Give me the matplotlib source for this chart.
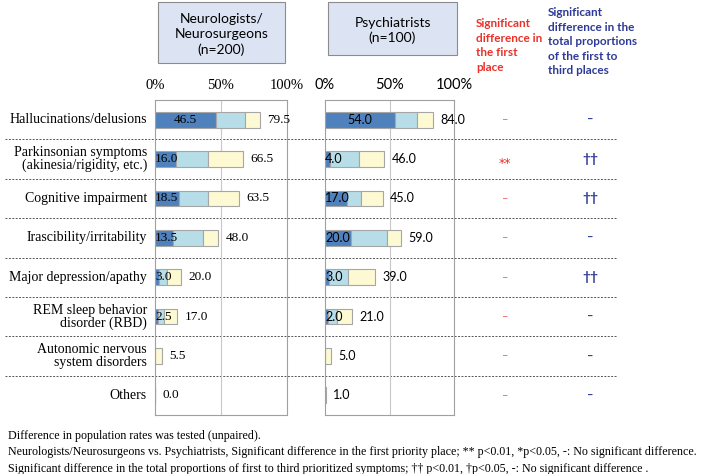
import numpy as np
import matplotlib
matplotlib.use("Agg")
import matplotlib.pyplot as plt
from matplotlib.patches import Rectangle

# symptom rows
labels = ["Hallucinations/delusions",
          "Parkinsonian symptoms\n(akinesia/rigidity, etc.)",
          "Cognitive impairment",
          "Irascibility/irritability",
          "Major depression/apathy",
          "REM sleep behavior\ndisorder (RBD)",
          "Autonomic nervous\nsystem disorders",
          "Others"]

# Neurologists/Neurosurgeons (n=200), % in 1st / 2nd / 3rd place
neuro_first = [46.5, 16.0, 18.5, 13.5, 3.0, 2.5, 0.0, 0.0]
neuro_second = [22.0, 24.5, 22.0, 22.5, 6.0, 4.5, 0.0, 0.0]
neuro_third = [11.0, 26.0, 23.0, 12.0, 11.0, 10.0, 5.5, 0.0]
neuro_total = [79.5, 66.5, 63.5, 48.0, 20.0, 17.0, 5.5, 0.0]

# Psychiatrists (n=100)
psych_first = [54.0, 4.0, 17.0, 20.0, 3.0, 2.0, 0.0, 0.0]
psych_second = [17.0, 22.0, 11.0, 28.0, 14.5, 7.5, 0.0, 0.0]
psych_third = [13.0, 20.0, 17.0, 11.0, 21.5, 11.5, 5.0, 1.0]
psych_total = [84.0, 46.0, 45.0, 59.0, 39.0, 21.0, 5.0, 1.0]

# significance marks
sig_first = ["-", "**", "-", "-", "-", "-", "-", "-"]
sig_total = ["-", "††", "††", "-", "††", "-", "-", "-"]

W, H = 709, 474
SERIF = "Liberation Serif"
SANS = ["Lato", "DejaVu Sans"]
c_first, c_second, c_third = "#4f81bd", "#b7dee8", "#fdf9d2"
red, blue = "#e8322a", "#2e3a96"

fig = plt.figure(figsize=(W / 100, H / 100), dpi=100)


def fx(x):
    return x / W


def fy(y):
    return 1 - y / H


top, bottom = 100, 415
n = len(labels)
rows = np.arange(n) + 0.5

# background axes for row labels, separators and significance marks
bg = fig.add_axes([0, fy(bottom), 1, (bottom - top) / H])
bg.set_xlim(0, W)
bg.set_ylim(n, 0)
bg.axis("off")
for i in range(1, n):
    bg.plot([5, 617], [i, i], color="#555555", lw=0.7, ls=(0, (2, 1.5)))
for y, lab in zip(rows, labels):
    bg.text(147, y, lab, ha="right", va="center", family=SERIF, fontsize=10,
            linespacing=0.95)
for y, s1, s2 in zip(rows, sig_first, sig_total):
    if s1 == "-":
        bg.text(505, y, "–", ha="center", va="center", color="#e86060",
                family=SANS, fontsize=8)
    else:
        bg.text(505, y + 0.1, s1, ha="center", va="center", color=red,
                family="DejaVu Sans", fontsize=9)
    if s2 == "-":
        bg.text(590, y, "–", ha="center", va="center", color=blue,
                family=SANS, fontsize=8, fontweight="bold")
    else:
        bg.text(590, y, s2, ha="center", va="center", color=blue,
                family=SANS, fontsize=10, fontweight="bold")


def panel(x0, width, first, second, third, total, font, vsize):
    ax = fig.add_axes([fx(x0), fy(bottom), width / W, (bottom - top) / H])
    ax.set_facecolor("none")
    ax.set_xlim(0, 100)
    ax.set_ylim(n, 0)
    ax.axvline(50, color="#c8c8c8", lw=0.8, zorder=0)
    kw = dict(height=0.4, edgecolor="#a6a6a6", linewidth=0.8)
    ax.barh(rows, first, color=c_first, **kw)
    ax.barh(rows, second, left=first, color=c_second, **kw)
    ax.barh(rows, third, left=np.add(first, second), color=c_third, **kw)
    for y, f, t in zip(rows, first, total):
        if f > 0:
            if f > 40:
                ax.text(f / 2, y, f"{f:.1f}", ha="center", va="center",
                        family=font, fontsize=vsize)
            else:
                ax.text(0, y, f"{f:.1f}", ha="left", va="center",
                        family=font, fontsize=vsize)
        ax.text(t + 5.5, y, f"{t:.1f}", ha="left", va="center",
                family=font, fontsize=vsize)
    ax.xaxis.tick_top()
    ax.set_xticks([0, 50, 100])
    ax.set_xticklabels(["0%", "50%", "100%"])
    ax.tick_params(axis="x", length=0, pad=6, labelsize=10.5)
    for tick in ax.xaxis.get_major_ticks():
        tick.label1.set_family(font)
        tick.label2.set_family(font)
    ax.set_yticks([])
    for sp in ax.spines.values():
        sp.set_color("#a0a0a0")
        sp.set_linewidth(0.8)
    return ax


panel(155, 132, neuro_first, neuro_second, neuro_third, neuro_total, SERIF, 9.5)
panel(325, 129, psych_first, psych_second, psych_third, psych_total, SANS, 9)

# group header boxes
for x0, y0, x1, y1, txt in [(158, 2, 285, 63, "Neurologists/\nNeurosurgeons\n(n=200)"),
                            (328, 2, 457, 55, "Psychiatrists\n(n=100)")]:
    fig.patches.append(Rectangle((fx(x0), fy(y1)), (x1 - x0) / W, (y1 - y0) / H,
                                 transform=fig.transFigure, facecolor="#dce3f2",
                                 edgecolor="#8c8c8c", lw=0.8))
    fig.text(fx((x0 + x1) / 2), fy((y0 + y1) / 2 + 2), txt, ha="center", va="center",
             family=SANS, fontsize=10, linespacing=1.3)

fig.text(fx(476), fy(18), "Significant\ndifference in\nthe first\nplace", ha="left", va="top",
         color=red, family=SANS, fontsize=8.5, fontweight="bold", linespacing=1.4)
fig.text(fx(548), fy(7), "Significant\ndifference in the\ntotal proportions\nof the first to\nthird places",
         ha="left", va="top", color=blue, family=SANS, fontsize=8.5, fontweight="bold",
         linespacing=1.4)

notes = ["Difference in population rates was tested (unpaired).",
         "Neurologists/Neurosurgeons vs. Psychiatrists, Significant difference in the first priority place; "
         "** p<0.01, *p<0.05, -: No significant difference.",
         "Significant difference in the total proportions of first to third prioritized symptoms; "
         "†† p<0.01, †p<0.05, -: No significant difference ."]
for k, line in enumerate(notes):
    fig.text(fx(8), fy(436 + 16.5 * k), line, ha="left", va="center", family=SERIF, fontsize=8.65)

fig.savefig("out.png", dpi=100)
